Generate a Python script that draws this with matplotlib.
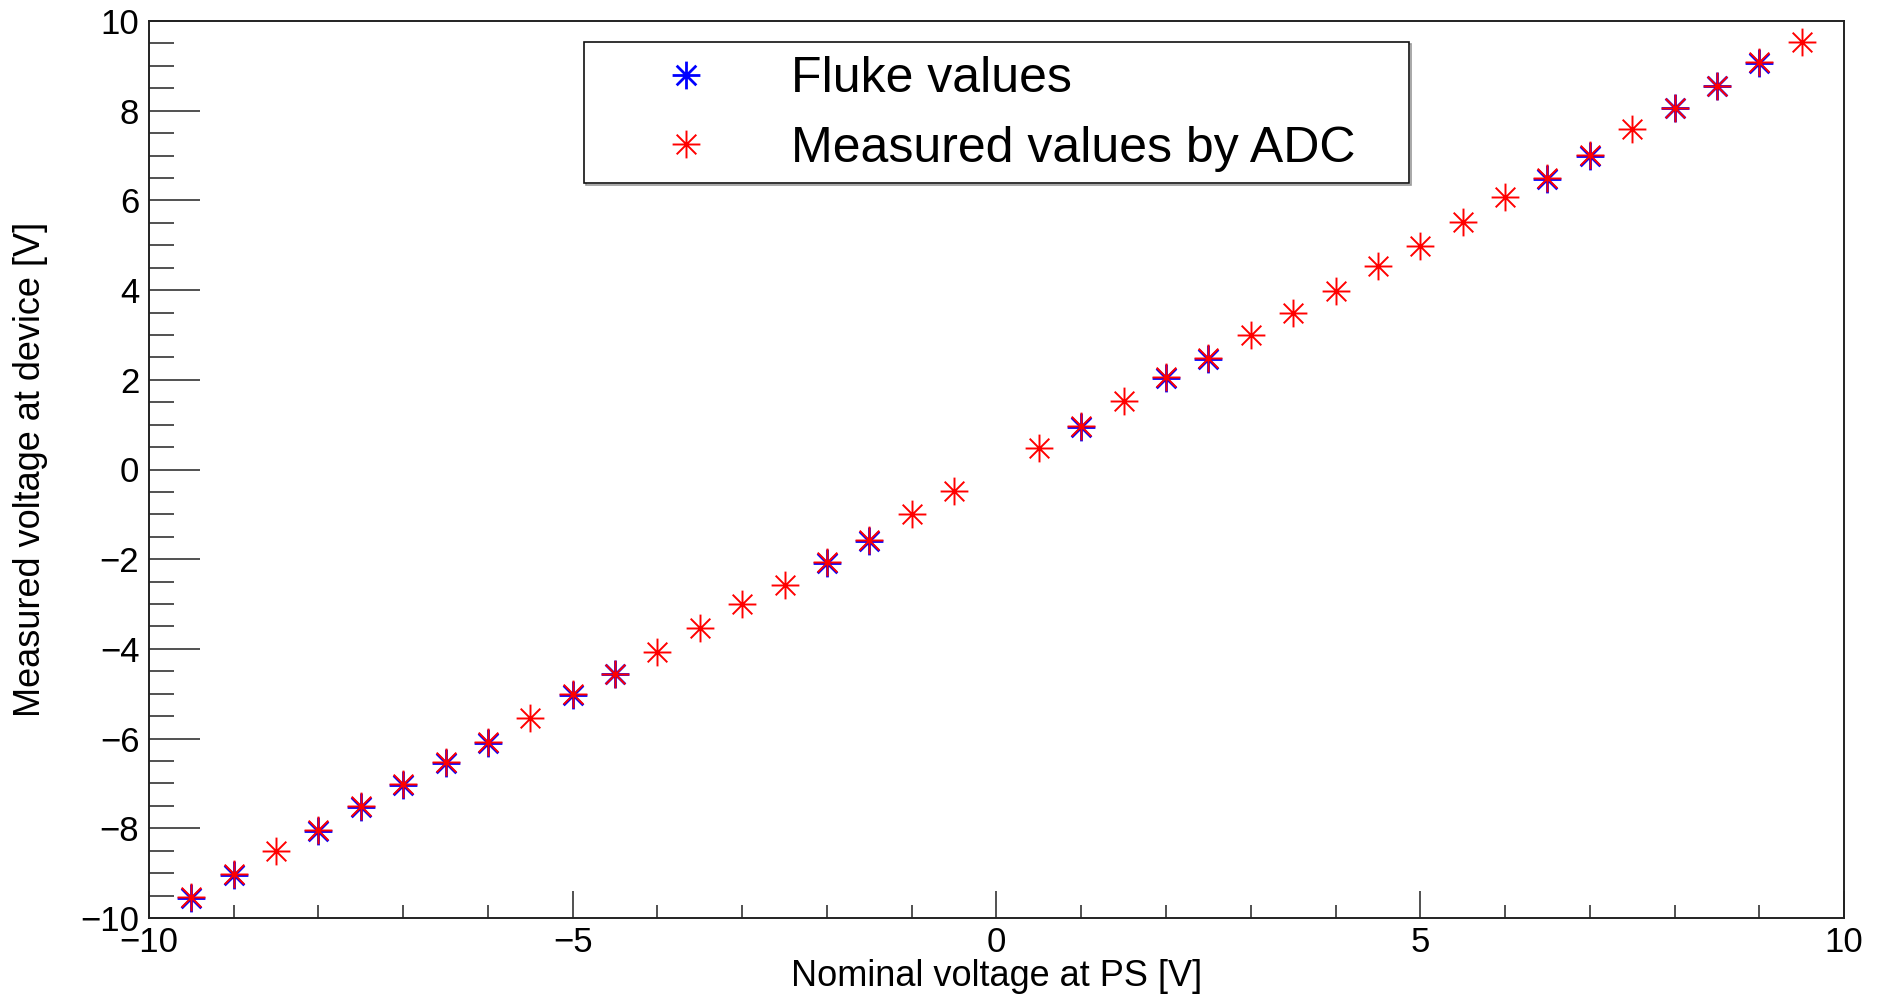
import matplotlib
matplotlib.use("Agg")
import matplotlib.pyplot as plt
import numpy as np
from matplotlib.path import Path
from matplotlib.patches import Rectangle
from matplotlib.ticker import MultipleLocator

plt.rcParams['font.family'] = ['Liberation Sans', 'DejaVu Sans']

# nominal voltage at PS [V] and what the ADC read back
ADC_NOMINAL = [-9.5, -9, -8.5, -8, -7.5, -7, -6.5, -6, -5.5, -5, -4.5, -4, -3.5,
               -3, -2.5, -2, -1.5, -1, -0.5, 0.5, 1, 1.5, 2, 2.5, 3, 3.5, 4,
               4.5, 5, 5.5, 6, 6.5, 7, 7.5, 8, 8.5, 9, 9.5]
ADC_VALUES = [-9.54, -9.02, -8.51, -8.03, -7.51, -7.02, -6.53, -6.08, -5.53,
              -5.01, -4.55, -4.07, -3.53, -3.01, -2.58, -2.07, -1.57, -1.00,
              -0.47, 0.49, 0.97, 1.52, 2.06, 2.49, 3.00, 3.50, 3.99, 4.53,
              4.99, 5.51, 6.08, 6.49, 7.01, 7.59, 8.07, 8.56, 9.08, 9.53]

# reference measurements with the Fluke multimeter (only some points)
FLUKE_NOMINAL = [-9.5, -9, -8, -7.5, -7, -6.5, -6, -5, -4.5, -2, -1.5,
                 1, 2, 2.5, 6.5, 7, 8, 8.5, 9]
FLUKE_VALUES = [-9.56, -9.04, -8.05, -7.53, -7.04, -6.55, -6.10, -5.03, -4.57,
                -2.09, -1.59, 0.95, 2.04, 2.47, 6.47, 6.99, 8.05, 8.54, 9.06]

W, H = 1880, 1002

# ROOT style asterisk (marker 3): horizontal, vertical and both diagonals
d = np.sqrt(0.5)
STAR = Path([(-1, 0), (1, 0), (0, -1), (0, 1), (-d, -d), (d, d), (-d, d), (d, -d)],
            [Path.MOVETO, Path.LINETO] * 4)


def px(x, y):
    # pixel position (from top left) -> figure fraction
    return x / W, 1 - y / H


def make_plot():
    fig = plt.figure(figsize=(W / 100, H / 100), dpi=100)
    ax = fig.add_axes([149 / W, 1 - 918 / H, 1695 / W, 897 / H])

    ax.plot(FLUKE_NOMINAL, FLUKE_VALUES, ls='none', marker=STAR, ms=20,
            mew=2.0, mec='#0000ff', label='Fluke values')
    ax.plot(ADC_NOMINAL, ADC_VALUES, ls='none', marker=STAR, ms=20,
            mew=1.4, mec='#ff0000', label='Measured values by ADC')

    ax.set_xlim(-10, 10)
    ax.set_ylim(-10, 10)
    ax.xaxis.set_major_locator(MultipleLocator(5))
    ax.xaxis.set_minor_locator(MultipleLocator(1))
    ax.yaxis.set_major_locator(MultipleLocator(2))
    ax.yaxis.set_minor_locator(MultipleLocator(0.5))

    ax.tick_params(axis='both', which='both', direction='in', top=False,
                   right=False, width=1.1, color='#222222', labelsize=25)
    ax.tick_params(axis='x', which='major', length=19.5, pad=6)
    ax.tick_params(axis='x', which='minor', length=9.7)
    ax.tick_params(axis='y', which='major', length=36.6, pad=7)
    ax.tick_params(axis='y', which='minor', length=18.3)
    for sp in ax.spines.values():
        sp.set_linewidth(1.4)
        sp.set_color('#222222')

    ax.set_xlabel('Nominal voltage at PS [V]', fontsize=26)
    ax.set_ylabel('Measured voltage at device [V]', fontsize=26)
    ax.xaxis.set_label_coords(0.5, -0.046)
    ax.yaxis.set_label_coords(-0.0702, 0.5)
    ax.yaxis.label.set_va('center')

    # legend box with a little shadow, like the ROOT TLegend
    x0, y0 = px(584, 183)
    x1, y1 = px(1409, 42)
    shadow = Rectangle((x0 + 2 / W, y0 - 2 / H), x1 - x0, y1 - y0,
                       transform=fig.transFigure, fc='none', ec='#999999',
                       lw=1.2, zorder=4, clip_on=False)
    box = Rectangle((x0, y0), x1 - x0, y1 - y0, transform=fig.transFigure,
                    fc='white', ec='#111111', lw=1.2, zorder=4, clip_on=False)
    ax.add_artist(shadow)
    ax.add_artist(box)
    leg = ax.legend(loc='upper left', bbox_to_anchor=px(661, 56),
                    bbox_transform=fig.transFigure, frameon=False,
                    fontsize=36, markerscale=1.0, handlelength=1.0,
                    handletextpad=1.6, borderpad=0, borderaxespad=0,
                    labelspacing=0.47)
    leg.set_zorder(5)

    fig.savefig('out.png', dpi=100)
    return fig


if __name__ == "__main__":
    make_plot()
